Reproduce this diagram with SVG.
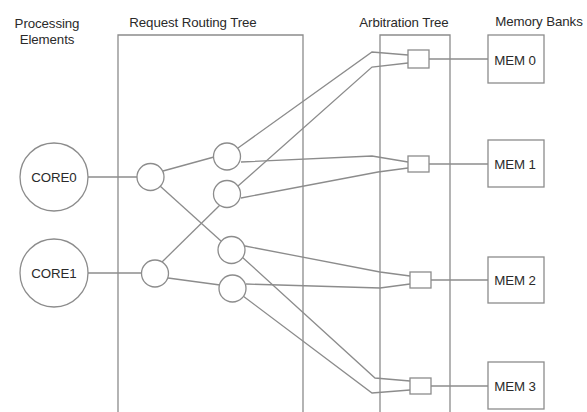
<svg xmlns="http://www.w3.org/2000/svg" width="587" height="412" viewBox="0 0 587 412">
  <style>
    .ln { fill: none; stroke: #8c8c8c; stroke-width: 1.3; }
    .nd { fill: #ffffff; stroke: #8c8c8c; stroke-width: 1.3; }
    .tx { font-family: "Liberation Sans", Arial, sans-serif; font-size: 13.3px; fill: #2a2a2a; text-anchor: middle; letter-spacing: -0.1px; }
  </style>
  <rect width="587" height="412" fill="#ffffff"/>

  <!-- column headings -->
  <g id="headings">
    <text class="tx" x="47" y="28">Processing</text>
    <text class="tx" x="47" y="44">Elements</text>
    <text class="tx" x="193" y="27">Request Routing Tree</text>
    <text class="tx" x="404" y="27">Arbitration Tree</text>
    <text class="tx" x="539" y="26">Memory Banks</text>
  </g>

  <!-- open-bottomed frames around the two trees -->
  <g id="frames">
    <path class="ln" d="M118,412 V35 H303 V412"/>
    <path class="ln" d="M380,412 V35 H450 V412"/>
  </g>

  <!-- connectors -->
  <g id="connectors">
    <!-- cores to first-level routers -->
    <line class="ln" x1="88" y1="177" x2="137" y2="177"/>
    <line class="ln" x1="88" y1="273" x2="142" y2="273"/>
    <!-- first level to second level -->
    <line class="ln" x1="163" y1="171" x2="214" y2="157"/>
    <line class="ln" x1="160" y1="186" x2="221" y2="241"/>
    <line class="ln" x1="162" y1="262" x2="220" y2="205"/>
    <line class="ln" x1="168" y1="278" x2="220" y2="285"/>
    <!-- second level to arbiters -->
    <polyline class="ln" points="238,148 372,52 408,55"/>
    <polyline class="ln" points="241,162 372,156 408,162"/>
    <polyline class="ln" points="238,186 372,67 408,63"/>
    <polyline class="ln" points="241,198 378,172 408,168"/>
    <polyline class="ln" points="245,246 380,272 410,276"/>
    <polyline class="ln" points="242,257 375,378 410,381"/>
    <polyline class="ln" points="246,284 380,288 410,284"/>
    <polyline class="ln" points="243,296 372,393 410,390"/>
    <!-- arbiters to memory banks -->
    <line class="ln" x1="429" y1="59" x2="488" y2="59"/>
    <line class="ln" x1="429" y1="164" x2="488" y2="164"/>
    <line class="ln" x1="431" y1="280" x2="488" y2="280"/>
    <line class="ln" x1="431" y1="386" x2="488" y2="386"/>
  </g>

  <!-- processing elements -->
  <g id="core0">
    <circle class="nd" cx="54" cy="177" r="34"/>
    <text class="tx" x="54" y="182">CORE0</text>
  </g>
  <g id="core1">
    <circle class="nd" cx="54" cy="273" r="34"/>
    <text class="tx" x="54" y="278">CORE1</text>
  </g>

  <!-- request routing tree switches -->
  <g id="route-1a"><circle class="nd" cx="150.5" cy="177" r="13.5"/></g>
  <g id="route-1b"><circle class="nd" cx="155" cy="273.5" r="13.5"/></g>
  <g id="route-2a"><circle class="nd" cx="227" cy="156.5" r="13.5"/></g>
  <g id="route-2b"><circle class="nd" cx="227" cy="194" r="13.5"/></g>
  <g id="route-2c"><circle class="nd" cx="231.5" cy="250" r="13.5"/></g>
  <g id="route-2d"><circle class="nd" cx="232.5" cy="288.5" r="13.5"/></g>

  <!-- arbiters -->
  <g id="arb0"><rect class="nd" x="408" y="50" width="21" height="18"/></g>
  <g id="arb1"><rect class="nd" x="408" y="156" width="21" height="16"/></g>
  <g id="arb2"><rect class="nd" x="410" y="272" width="21" height="16"/></g>
  <g id="arb3"><rect class="nd" x="410" y="378" width="21" height="16"/></g>

  <!-- memory banks -->
  <g id="mem0">
    <rect class="nd" x="488" y="35" width="56" height="48"/>
    <text class="tx" x="515" y="65">MEM 0</text>
  </g>
  <g id="mem1">
    <rect class="nd" x="488" y="140" width="56" height="47"/>
    <text class="tx" x="515" y="169">MEM 1</text>
  </g>
  <g id="mem2">
    <rect class="nd" x="488" y="257" width="56" height="46"/>
    <text class="tx" x="515" y="285">MEM 2</text>
  </g>
  <g id="mem3">
    <rect class="nd" x="488" y="362" width="56" height="47"/>
    <text class="tx" x="515" y="391">MEM 3</text>
  </g>
</svg>
